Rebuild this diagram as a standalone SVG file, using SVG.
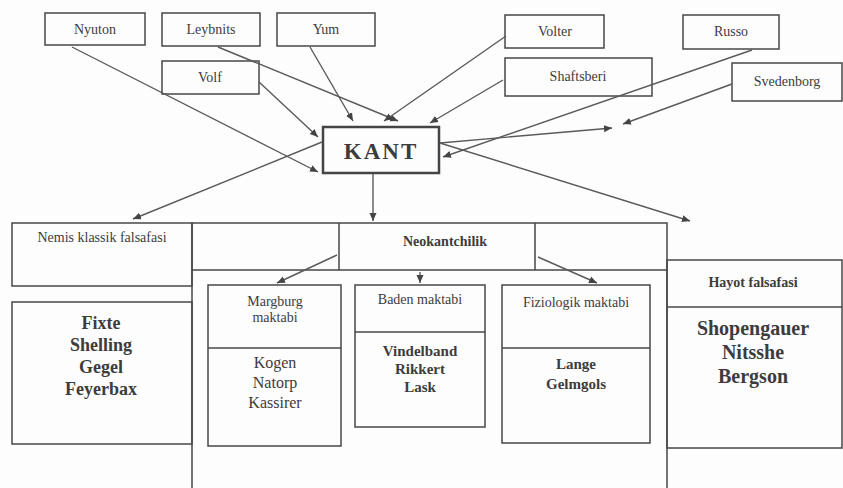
<svg xmlns="http://www.w3.org/2000/svg" width="843" height="488" viewBox="0 0 843 488">
<defs>
<marker id="ah" markerUnits="userSpaceOnUse" markerWidth="9" markerHeight="8" refX="8" refY="4" orient="auto">
<path d="M0,0.5 L8,4 L0,7.5 z" fill="#444"/>
</marker>
<style>
.bx{fill:none;stroke:#474747;stroke-width:1.5}
.ln{fill:none;stroke:#5a5a5a;stroke-width:1.4;marker-end:url(#ah)}
.t{font-family:"Liberation Serif","Times New Roman",serif;fill:#3c3c3c;text-anchor:middle}
.s{font-size:14px}
.m{font-size:16px}
.b{font-weight:bold}
</style>
</defs>
<rect width="843" height="488" fill="#fdfdfd"/>

<g id="nyuton"><rect class="bx" x="45" y="13" width="100" height="32"/><text class="t s" x="95" y="34">Nyuton</text></g>
<g id="leybnits"><rect class="bx" x="162" y="13" width="98" height="33"/><text class="t s" x="211" y="34">Leybnits</text></g>
<g id="yum"><rect class="bx" x="277" y="13" width="98" height="33"/><text class="t s" x="326" y="34">Yum</text></g>
<g id="volf"><rect class="bx" x="162" y="61" width="97" height="33"/><text class="t s" x="210" y="82">Volf</text></g>
<g id="volter"><rect class="bx" x="505" y="15" width="99" height="33"/><text class="t s" x="555" y="36">Volter</text></g>
<g id="shaftsberi"><rect class="bx" x="505" y="58" width="147" height="38"/><text class="t s" x="578" y="81">Shaftsberi</text></g>
<g id="russo"><rect class="bx" x="683" y="15" width="96" height="34"/><text class="t s" x="731" y="36">Russo</text></g>
<g id="svedenborg"><rect class="bx" x="732" y="63" width="110" height="38"/><text class="t s" x="787" y="86">Svedenborg</text></g>

<g id="kant"><rect x="323" y="127" width="116" height="46" fill="none" stroke="#444" stroke-width="2.5"/><text class="t b" x="381" y="159" font-size="23" letter-spacing="2">KANT</text></g>

<g id="nemis"><rect class="bx" x="12" y="223" width="180" height="63"/><text class="t s" x="102" y="242">Nemis klassik falsafasi</text></g>
<g id="fixte"><rect class="bx" x="12" y="302" width="180" height="142"/>
<text class="t b" x="101" y="329" font-size="18">Fixte</text>
<text class="t b" x="101" y="351" font-size="18">Shelling</text>
<text class="t b" x="101" y="373" font-size="18">Gegel</text>
<text class="t b" x="101" y="395" font-size="18">Feyerbax</text></g>

<g id="neokantchilik">
<path class="bx" d="M192,488 V223 H667 V488 M192,270 H667 M339,223 V270 M535,223 V270"/>
<text class="t b" x="445" y="246" font-size="14">Neokantchilik</text></g>

<g id="margburg"><rect class="bx" x="208" y="285" width="133" height="161"/><line class="bx" x1="208" y1="348" x2="341" y2="348"/>
<text class="t s" x="275" y="306">Margburg</text><text class="t s" x="275" y="322">maktabi</text>
<text class="t m" x="275" y="368">Kogen</text><text class="t m" x="275" y="388">Natorp</text><text class="t m" x="275" y="408">Kassirer</text></g>

<g id="baden"><rect class="bx" x="355" y="285" width="130" height="142"/><line class="bx" x1="355" y1="332" x2="485" y2="332"/>
<text class="t s" x="420" y="304">Baden maktabi</text>
<text class="t b" x="420" y="356" font-size="15">Vindelband</text><text class="t b" x="420" y="374" font-size="15">Rikkert</text><text class="t b" x="420" y="392" font-size="15">Lask</text></g>

<g id="fiziologik"><rect class="bx" x="502" y="285" width="148" height="158"/><line class="bx" x1="502" y1="348" x2="650" y2="348"/>
<text class="t s" x="576" y="307">Fiziologik maktabi</text>
<text class="t b" x="576" y="369" font-size="15">Lange</text><text class="t b" x="576" y="389" font-size="15">Gelmgols</text></g>

<g id="hayot"><rect class="bx" x="667" y="260" width="175" height="188"/><line class="bx" x1="667" y1="307" x2="842" y2="307"/>
<text class="t b" x="753" y="287" font-size="14">Hayot falsafasi</text>
<text class="t b" x="753" y="335" font-size="20">Shopengauer</text><text class="t b" x="753" y="359" font-size="20">Nitsshe</text><text class="t b" x="753" y="383" font-size="20">Bergson</text></g>

<g id="connectors">
<line class="ln" x1="72" y1="47" x2="318" y2="172"/>
<line class="ln" x1="218" y1="47" x2="398" y2="121"/>
<line class="ln" x1="310" y1="47" x2="353" y2="121"/>
<line class="ln" x1="259" y1="82" x2="318" y2="137"/>
<line class="ln" x1="506" y1="36" x2="384" y2="121"/>
<line class="ln" x1="503" y1="80" x2="430" y2="123"/>
<line class="ln" x1="752" y1="50" x2="443" y2="157"/>
<line class="ln" x1="732" y1="84" x2="623" y2="124"/>
<line class="ln" x1="440" y1="143" x2="612" y2="128"/>
<line class="ln" x1="440" y1="143" x2="690" y2="221"/>
<line class="ln" x1="322" y1="142" x2="133" y2="219"/>
<line class="ln" x1="373" y1="174" x2="373" y2="221"/>
<line class="ln" x1="337" y1="255" x2="277" y2="283"/>
<line class="ln" x1="420" y1="272" x2="420" y2="283"/>
<line class="ln" x1="538" y1="257" x2="597" y2="283"/>
</g>
</svg>
